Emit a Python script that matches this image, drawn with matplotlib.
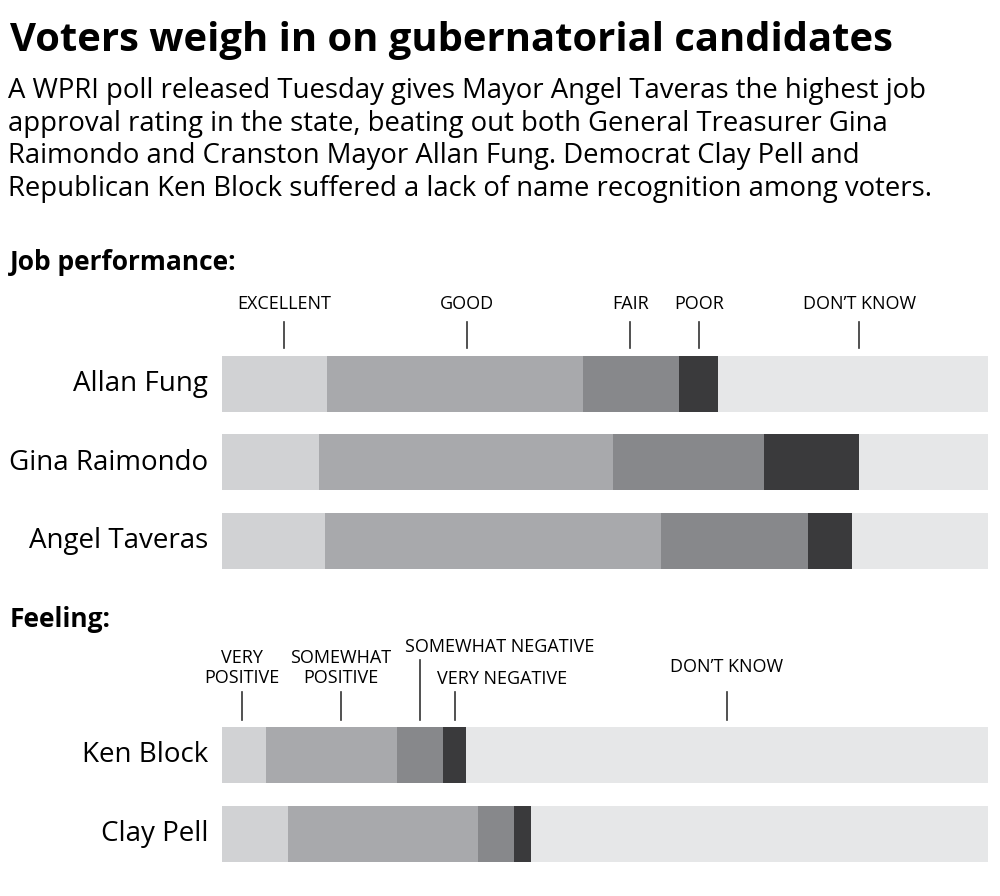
import matplotlib
matplotlib.use('Agg')
import matplotlib.pyplot as plt

# job performance data (percent)
job_names = ['Allan Fung', 'Gina Raimondo', 'Angel Taveras']
job_cats = ['EXCELLENT', 'GOOD', 'FAIR', 'POOR', "DON\u2019T KNOW"]
job_vals = [
    [13.7, 33.4, 12.5, 5.2, 35.2],
    [12.7, 38.3, 19.7, 12.4, 16.9],
    [13.4, 43.9, 19.2, 5.7, 17.8],
]
job_tick_x = [8.1, 32.0, 53.3, 62.3, 83.2]

# feeling data (percent)
feel_names = ['Ken Block', 'Clay Pell']
feel_cats = ['VERY\nPOSITIVE', 'SOMEWHAT\nPOSITIVE', 'SOMEWHAT NEGATIVE', 'VERY NEGATIVE', "DON\u2019T KNOW"]
feel_vals = [
    [5.7, 17.2, 6.0, 2.9, 68.2],
    [8.6, 24.8, 4.7, 2.3, 59.6],
]
feel_tick_x = [2.6, 15.5, 25.8, 30.4, 65.9]

colors = ['#d1d2d4', '#a8a9ac', '#87888b', '#3a3a3c', '#e6e7e8']

plt.rcParams['font.family'] = ['Open Sans', 'DejaVu Sans']

W, H = 1000, 896
fig = plt.figure(figsize=(10, 8.96), dpi=100)


def make_ax(top, bottom):
    ax = fig.add_axes([222 / W, 1 - bottom / H, 766 / W, (bottom - top) / H])
    ax.set_xlim(0, 100)
    ax.set_ylim(bottom, top)
    ax.axis('off')
    return ax


def draw_bars(ax, names, vals, y0, step):
    for i, (name, row) in enumerate(zip(names, vals)):
        y = y0 + i * step
        left = 0
        for v, c in zip(row, colors):
            ax.barh(y, v, left=left, height=56, color=c, edgecolor='none')
            left += v
        ax.text(-1.8, y, name, ha='right', va='center', fontsize=20, clip_on=False)


fig.text(10 / W, 1 - 40 / H, 'Voters weigh in on gubernatorial candidates',
         fontsize=28.8, fontweight='bold', va='center', ha='left')
sub = ('A WPRI poll released Tuesday gives Mayor Angel Taveras the highest job\n'
       'approval rating in the state, beating out both General Treasurer Gina\n'
       'Raimondo and Cranston Mayor Allan Fung. Democrat Clay Pell and\n'
       'Republican Ken Block suffered a lack of name recognition among voters.')
fig.text(8 / W, 1 - 77 / H, sub, fontsize=19.8, va='top', ha='left', linespacing=1.22)

fig.text(10 / W, 1 - 263 / H, 'Job performance:', fontsize=19, fontweight='bold', va='center')
fig.text(10 / W, 1 - 619 / H, 'Feeling:', fontsize=19, fontweight='bold', va='center')

# job section
ax1 = make_ax(290, 575)
draw_bars(ax1, job_names, job_vals, 384, 78.5)
for lab, x in zip(job_cats, job_tick_x):
    ax1.text(x, 304, lab, ha='center', va='center', fontsize=13)
    ax1.plot([x, x], [322, 348], color='#333333', lw=1.2)

# feeling section
ax2 = make_ax(635, 870)
draw_bars(ax2, feel_names, feel_vals, 755, 79)
feel_label_x = [2.6, 15.5, 23.9, 28.1, 65.9]
feel_label_ha = ['center', 'center', 'left', 'left', 'center']
feel_label_y = [668, 668, 647, 679, 667]
feel_tick_top = [692, 692, 660, 692, 692]
for lab, x, lx, ha, ly, tt in zip(feel_cats, feel_tick_x, feel_label_x, feel_label_ha,
                                  feel_label_y, feel_tick_top):
    ax2.text(lx, ly, lab, ha=ha, va='center', fontsize=13, linespacing=1.15, clip_on=False)
    ax2.plot([x, x], [tt, 720], color='#333333', lw=1.2)

fig.savefig('out.png', dpi=100, facecolor='white')
